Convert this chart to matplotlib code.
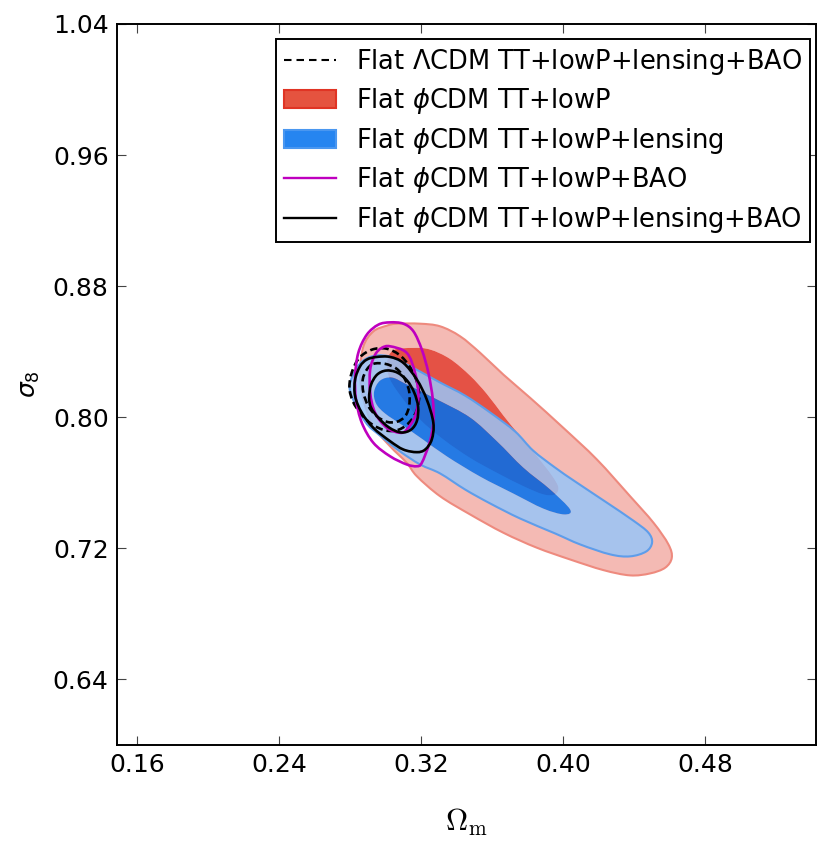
import numpy as np
import matplotlib
matplotlib.use('Agg')
import matplotlib.pyplot as plt
from matplotlib.path import Path
from matplotlib.patches import PathPatch, Patch
from matplotlib.lines import Line2D

# contour outlines, as (Omega_m, sigma_8) vertices
red_outer_om = [0.3006, 0.3062, 0.3193, 0.3306, 0.3419, 0.3532, 0.3663, 0.3814, 0.4001, 0.4190,
                0.4377, 0.4509, 0.4593, 0.4612, 0.4575, 0.4490, 0.4377, 0.4227, 0.4039, 0.3851,
                0.3663, 0.3475, 0.3306, 0.3175, 0.3118, 0.3024, 0.2930, 0.2874, 0.2855, 0.2874, 0.2930]
red_outer_s8 = [0.8559, 0.8571, 0.8571, 0.8555, 0.8494, 0.8393, 0.8260, 0.8118, 0.7935, 0.7742,
                0.7518, 0.7356, 0.7224, 0.7143, 0.7082, 0.7047, 0.7035, 0.7067, 0.7132, 0.7204,
                0.7295, 0.7407, 0.7518, 0.7640, 0.7722, 0.7823, 0.7945, 0.8108, 0.8271, 0.8433, 0.8524]
red_inner_om = [0.3043, 0.3156, 0.3250, 0.3362, 0.3475, 0.3569, 0.3663, 0.3739, 0.3814, 0.3889, 0.3945,
                0.3973, 0.3954, 0.3889, 0.3776, 0.3626, 0.3475, 0.3325, 0.3193, 0.3099, 0.3024, 0.3006]
red_inner_s8 = [0.8409, 0.8423, 0.8413, 0.8356, 0.8254, 0.8143, 0.8010, 0.7909, 0.7813, 0.7712, 0.7631,
                0.7570, 0.7529, 0.7529, 0.7579, 0.7661, 0.7752, 0.7864, 0.7986, 0.8108, 0.8230, 0.8332]

blue_outer_om = [0.2799, 0.2816, 0.2866, 0.2940, 0.3024, 0.3109, 0.3193, 0.3306, 0.3447, 0.3588,
                 0.3729, 0.3830, 0.3954, 0.4067, 0.4236, 0.4394, 0.4479, 0.4501, 0.4468, 0.4377,
                 0.4265, 0.4095, 0.3954, 0.3757, 0.3588, 0.3447, 0.3306, 0.3193, 0.3081, 0.2968, 0.2883]
blue_outer_s8 = [0.8157, 0.8260, 0.8340, 0.8376, 0.8370, 0.8327, 0.8279, 0.8212, 0.8132, 0.8029,
                 0.7913, 0.7797, 0.7693, 0.7608, 0.7486, 0.7370, 0.7297, 0.7236, 0.7181, 0.7151,
                 0.7163, 0.7224, 0.7291, 0.7382, 0.7474, 0.7559, 0.7657, 0.7712, 0.7791, 0.7888, 0.7974]
blue_inner_om = [0.2934, 0.2968, 0.3035, 0.3120, 0.3289, 0.3475, 0.3627, 0.3774, 0.3926, 0.4039,
                 0.4005, 0.3887, 0.3718, 0.3532, 0.3346, 0.3210, 0.3097, 0.2996, 0.2945]
blue_inner_s8 = [0.8157, 0.8224, 0.8242, 0.8199, 0.8108, 0.7998, 0.7852, 0.7693, 0.7559, 0.7437,
                 0.7407, 0.7443, 0.7535, 0.7638, 0.7760, 0.7864, 0.7949, 0.8023, 0.8084]

mag_outer_om = [0.3024, 0.3099, 0.3156, 0.3203, 0.3240, 0.3265, 0.3268, 0.3246, 0.3203, 0.3175,
                0.3118, 0.3024, 0.2930, 0.2865, 0.2832, 0.2827, 0.2845, 0.2893, 0.2958]
mag_outer_s8 = [0.8579, 0.8571, 0.8524, 0.8413, 0.8271, 0.8108, 0.7966, 0.7844, 0.7722, 0.7701,
                0.7712, 0.7762, 0.7844, 0.7966, 0.8108, 0.8250, 0.8393, 0.8504, 0.8565]
mag_inner_om = [0.3024, 0.3118, 0.3165, 0.3184, 0.3165, 0.3118, 0.3081, 0.3006, 0.2940, 0.2912,
                0.2912, 0.2940, 0.2977]
mag_inner_s8 = [0.8433, 0.8393, 0.8271, 0.8128, 0.8006, 0.7925, 0.7905, 0.7935, 0.8027, 0.8149,
                0.8291, 0.8382, 0.8423]

blk_outer_om = [0.2949, 0.3024, 0.3099, 0.3175, 0.3231, 0.3268, 0.3259, 0.3222, 0.3175, 0.3099,
                0.3024, 0.2930, 0.2865, 0.2827, 0.2827, 0.2855, 0.2893]
blk_outer_s8 = [0.8368, 0.8368, 0.8332, 0.8230, 0.8108, 0.7966, 0.7864, 0.7803, 0.7787, 0.7803,
                0.7854, 0.7935, 0.8027, 0.8128, 0.8230, 0.8311, 0.8352]
blk_inner_om = [0.2906, 0.2917, 0.2951, 0.3002, 0.3064, 0.3120, 0.3160, 0.3182, 0.3176, 0.3143,
                0.3086, 0.3019, 0.2957, 0.2917]
blk_inner_s8 = [0.8120, 0.8199, 0.8260, 0.8285, 0.8273, 0.8224, 0.8151, 0.8065, 0.7980, 0.7925,
                0.7907, 0.7937, 0.7998, 0.8059]

lcdm_outer_om = [0.2795, 0.2810, 0.2852, 0.2923, 0.3002, 0.3075, 0.3131, 0.3171, 0.3188, 0.3176,
                 0.3137, 0.3075, 0.3002, 0.2923, 0.2858, 0.2815]
lcdm_outer_s8 = [0.8181, 0.8279, 0.8364, 0.8413, 0.8419, 0.8382, 0.8315, 0.8230, 0.8138, 0.8047,
                 0.7974, 0.7925, 0.7919, 0.7956, 0.8023, 0.8096]
lcdm_inner_om = [0.2930, 0.2996, 0.3062, 0.3109, 0.3133, 0.3131, 0.3109, 0.3062, 0.3006, 0.2949,
                 0.2902, 0.2874, 0.2870, 0.2893]
lcdm_inner_s8 = [0.8326, 0.8326, 0.8295, 0.8230, 0.8149, 0.8067, 0.8006, 0.7972, 0.7972, 0.8006,
                 0.8067, 0.8149, 0.8230, 0.8291]

labels = ['Flat $\\Lambda$CDM TT+lowP+lensing+BAO',
          'Flat $\\phi$CDM TT+lowP',
          'Flat $\\phi$CDM TT+lowP+lensing',
          'Flat $\\phi$CDM TT+lowP+BAO',
          'Flat $\\phi$CDM TT+lowP+lensing+BAO']
xticks = [0.16, 0.24, 0.32, 0.40, 0.48]
yticks = [0.64, 0.72, 0.80, 0.88, 0.96, 1.04]


def smooth(om, s8):
    '''closed smooth curve through the traced vertices (cubic bezier pieces)'''
    p = np.column_stack([om, s8])
    n = len(p)
    verts = [p[0]]
    codes = [Path.MOVETO]
    for i in range(n):
        p0, p1, p2, p3 = p[i - 1], p[i], p[(i + 1) % n], p[(i + 2) % n]
        verts += [p1 + (p2 - p0) / 6.0, p2 - (p3 - p1) / 6.0, p2]
        codes += [Path.CURVE4] * 3
    verts.append(p[0])
    codes.append(Path.CLOSEPOLY)
    return verts, codes


def outline(ax, om, s8, **kw):
    v, c = smooth(om, s8)
    ax.add_patch(PathPatch(Path(v, c), fill=False, **kw))


def band(ax, om_out, s8_out, om_in, s8_in, **kw):
    # outer region with the inner region cut out
    v1, c1 = smooth(om_out, s8_out)
    v2, c2 = smooth(om_in[::-1], s8_in[::-1])
    ax.add_patch(PathPatch(Path(v1 + v2, c1 + c2), **kw))


def region(ax, om, s8, **kw):
    v, c = smooth(om, s8)
    ax.add_patch(PathPatch(Path(v, c), **kw))


plt.rcParams['font.size'] = 18
fig = plt.figure(figsize=(8.31, 8.48), dpi=100)
ax = fig.add_axes([0.1408, 0.1215, 0.8412, 0.8502])

a = 0.85
# red: TT+lowP
band(ax, red_outer_om, red_outer_s8, red_inner_om, red_inner_s8, fc='#F3AEA7', ec='none', alpha=a)
region(ax, red_inner_om, red_inner_s8, fc='#E03424', ec='none', alpha=a)
outline(ax, red_outer_om, red_outer_s8, ec='#EE8A7E', lw=1.5)
# blue: TT+lowP+lensing
band(ax, blue_outer_om, blue_outer_s8, blue_inner_om, blue_inner_s8, fc='#99C5F8', ec='none', alpha=a)
region(ax, blue_inner_om, blue_inner_s8, fc='#006FED', ec='none', alpha=a)
outline(ax, blue_outer_om, blue_outer_s8, ec='#5E9DEA', lw=1.5)

for om, s8 in [(lcdm_outer_om, lcdm_outer_s8), (lcdm_inner_om, lcdm_inner_s8)]:
    outline(ax, om, s8, ec='k', lw=1.9, linestyle=(0, (2.8, 1.5)))
for om, s8 in [(mag_outer_om, mag_outer_s8), (mag_inner_om, mag_inner_s8)]:
    outline(ax, om, s8, ec='m', lw=1.9)
for om, s8 in [(blk_outer_om, blk_outer_s8), (blk_inner_om, blk_inner_s8)]:
    outline(ax, om, s8, ec='k', lw=1.9)

ax.set_xlim(0.1485, 0.5425)
ax.set_ylim(0.60, 1.04)
ax.set_xticks(xticks)
ax.set_xticklabels(['%.2f' % v for v in xticks])
ax.set_yticks(yticks)
ax.set_yticklabels(['%.2f' % v for v in yticks])
ax.tick_params(direction='in', top=True, right=True, length=6.5, width=0.8,
               color='#444444', labelsize=18, pad=6)
for s in ax.spines.values():
    s.set_linewidth(1.4)

ax.set_xlabel(r'$\Omega_{\rm m}$', fontsize=22, math_fontfamily='cm', labelpad=21)
ax.set_ylabel(r'$\sigma_8$', fontsize=18, labelpad=8)

handles = [Line2D([], [], color='k', lw=1.5, dashes=(3.6, 2.4)),
           Patch(fc='#E5533F', ec='#E03424', lw=1.5),
           Patch(fc='#2685F0', ec='#4A97F0', lw=1.5),
           Line2D([], [], color='m', lw=1.7),
           Line2D([], [], color='k', lw=1.7)]
leg = ax.legend(handles, labels, loc='upper right', bbox_to_anchor=(0.9914, 0.9792),
                borderaxespad=0, fontsize=18.5, fancybox=False, framealpha=1,
                labelspacing=0.37, borderpad=0.3, handlelength=2.0, handletextpad=0.8)
leg.get_frame().set_edgecolor('k')
leg.get_frame().set_linewidth(1.4)

fig.savefig('out.png', dpi=100)
